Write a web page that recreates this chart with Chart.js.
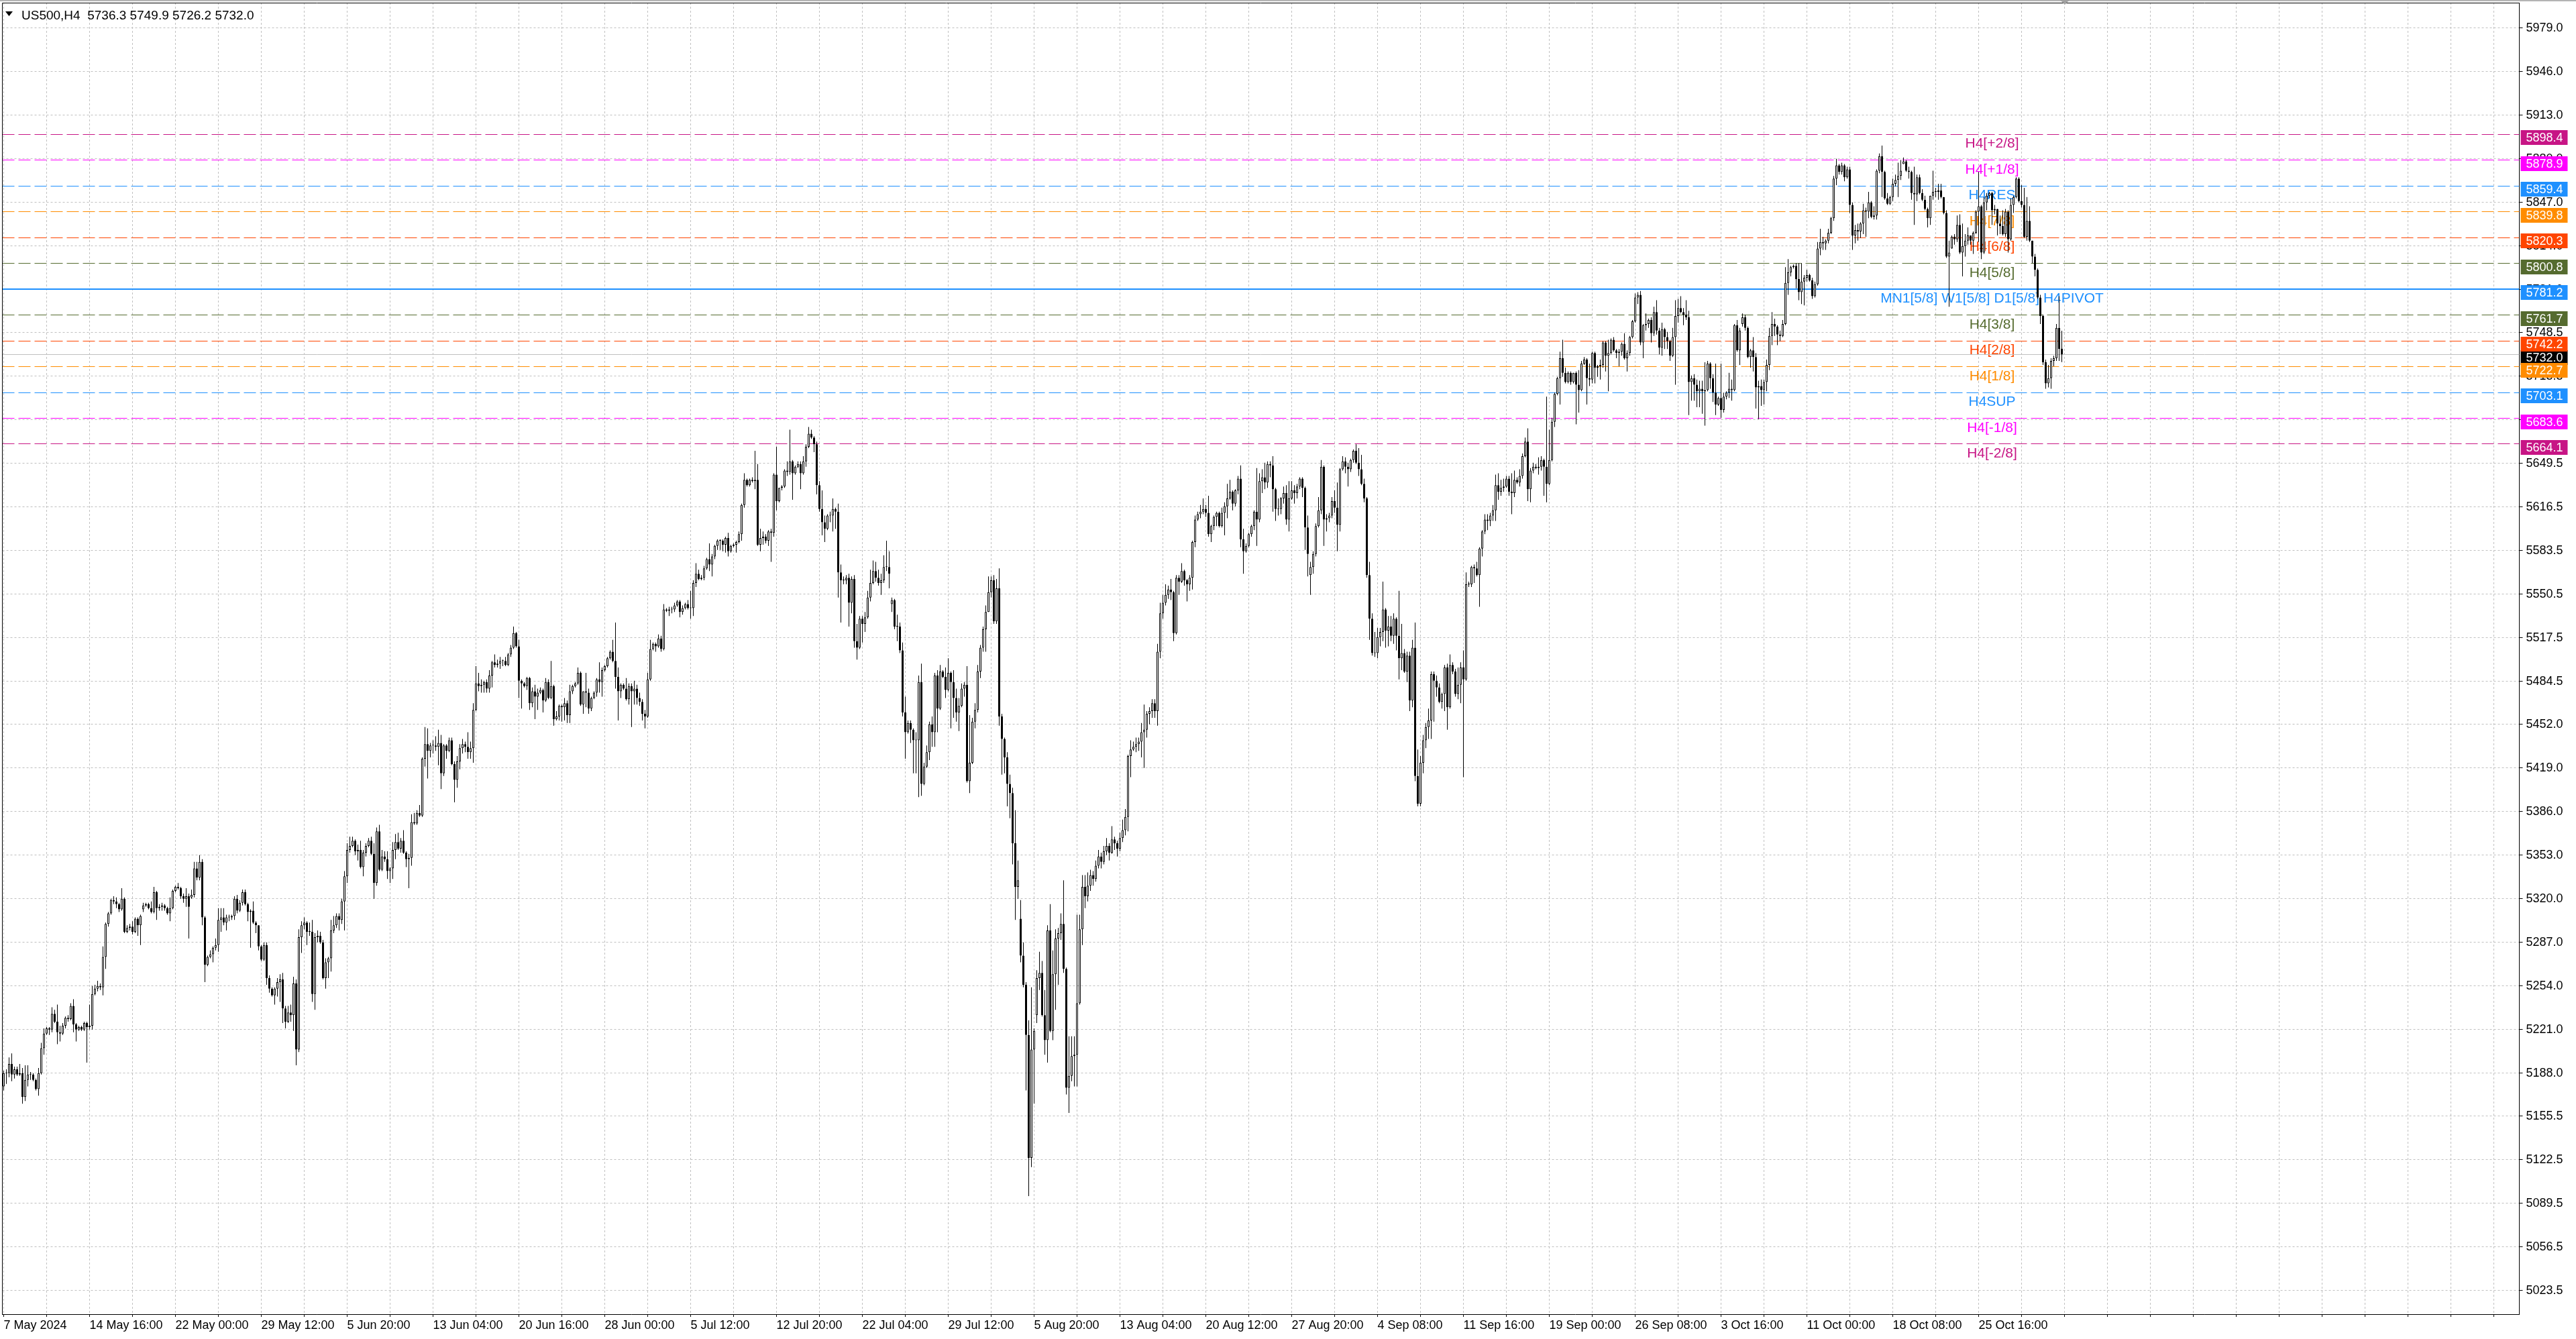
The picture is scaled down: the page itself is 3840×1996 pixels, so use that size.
<!DOCTYPE html>
<html>
<head>
<meta charset="utf-8">
<script src="https://cdn.jsdelivr.net/npm/chart.js@4.4.1/dist/chart.umd.min.js"></script>
<style>
html,body{margin:0;padding:0;background:#ffffff;overflow:hidden}
canvas{display:block}
</style>
</head>
<body>
<canvas id="c" width="3840" height="1996" style="width:3840px;height:1996px"></canvas>
<script>
// ---------- data ----------
const symbolTitle = 'US500,H4';
const xTickLabels = ['7 May 2024','14 May 16:00','22 May 00:00','29 May 12:00','5 Jun 20:00','13 Jun 04:00',
  '20 Jun 16:00','28 Jun 00:00','5 Jul 12:00','12 Jul 20:00','22 Jul 04:00','29 Jul 12:00','5 Aug 20:00',
  '13 Aug 04:00','20 Aug 12:00','27 Aug 20:00','4 Sep 08:00','11 Sep 16:00','19 Sep 00:00','26 Sep 08:00',
  '3 Oct 16:00','11 Oct 00:00','18 Oct 08:00','25 Oct 16:00'];
const yTickValues = [5979.0,5946.0,5913.0,5880.0,5847.0,5814.0,5781.0,5748.5,5715.5,5682.5,5649.5,5616.5,
  5583.5,5550.5,5517.5,5484.5,5452.0,5419.0,5386.0,5353.0,5320.0,5287.0,5254.0,5221.0,5188.0,5155.5,5122.5,
  5089.5,5056.5,5023.5];

const opens = [
5178,5188,5188,5195,5187,5191,5187,5188,5170,5183,
5187,5187,5183,5176,5188,5207,5218,5222,5221,5233,
5227,5219,5218,5224,5230,5229,5239,5225,5221,5223,
5221,5226,5223,5224,5248,5252,5254,5253,5276,5301,
5309,5319,5318,5316,5312,5320,5295,5298,5299,5295,
5305,5300,5312,5315,5316,5313,5310,5325,5313,5314,
5315,5313,5309,5313,5326,5329,5328,5322,5320,5322,
5321,5323,5343,5336,5348,5306,5270,5276,5278,5283,
5285,5304,5306,5302,5306,5306,5307,5320,5311,5317,
5325,5316,5310,5311,5302,5300,5284,5274,5285,5260,
5252,5247,5252,5257,5259,5237,5227,5234,5232,5256,
5206,5291,5300,5302,5295,5295,5248,5291,5292,5287,
5260,5272,5275,5296,5300,5307,5304,5318,5337,5357,
5360,5364,5356,5357,5344,5355,5360,5364,5354,5332,
5371,5342,5352,5350,5341,5343,5357,5363,5358,5364,
5355,5350,5351,5378,5377,5385,5383,5426,5437,5432,
5436,5436,5435,5438,5415,5436,5432,5440,5422,5410,
5424,5434,5437,5435,5431,5434,5463,5483,5481,5482,
5484,5479,5489,5499,5497,5498,5500,5500,5497,5505,
5510,5521,5511,5485,5483,5481,5487,5468,5477,5473,
5476,5478,5470,5484,5472,5481,5456,5458,5466,5465,
5468,5459,5477,5481,5483,5491,5467,5477,5476,5464,
5472,5476,5486,5484,5493,5496,5502,5507,5500,5488,
5477,5482,5479,5471,5481,5477,5479,5472,5469,5460,
5458,5486,5509,5513,5511,5517,5509,5539,5538,5539,
5539,5542,5545,5537,5540,5543,5540,5540,5559,5566,
5562,5563,5570,5577,5573,5579,5587,5591,5591,5588,
5593,5583,5587,5588,5590,5596,5618,5637,5633,5637,
5636,5637,5588,5593,5594,5591,5598,5597,5641,5621,
5631,5632,5644,5643,5651,5642,5647,5649,5642,5651,
5662,5672,5669,5664,5633,5615,5605,5600,5610,5610,
5615,5613,5567,5561,5561,5563,5544,5562,5515,5510,
5532,5528,5533,5548,5559,5568,5563,5559,5561,5571,
5571,5543,5546,5526,5526,5508,5461,5446,5453,5448,
5440,5440,5484,5407,5420,5431,5452,5446,5489,5464,
5492,5488,5478,5491,5484,5472,5461,5466,5479,5482,
5409,5423,5454,5463,5492,5510,5524,5537,5552,5561,
5530,5555,5458,5441,5427,5407,5400,5362,5329,5305,
5277,5255,5217,5124,5206,5232,5260,5264,5232,5213,
5296,5220,5263,5290,5294,5301,5267,5177,5186,5201,
5202,5241,5297,5329,5322,5330,5338,5335,5345,5352,
5348,5356,5360,5355,5365,5362,5358,5366,5372,5382,
5428,5433,5435,5437,5439,5446,5448,5460,5462,5468,
5462,5507,5536,5544,5550,5554,5552,5521,5563,5560,
5568,5561,5558,5563,5590,5607,5611,5613,5615,5612,
5596,5602,5609,5612,5602,5612,5617,5623,5628,5619,
5629,5638,5592,5583,5587,5596,5602,5613,5607,5636,
5639,5635,5649,5648,5630,5615,5615,5623,5627,5607,
5623,5629,5627,5632,5638,5631,5601,5565,5571,5581,
5602,5614,5647,5607,5608,5610,5621,5616,5603,5645,
5651,5647,5645,5652,5659,5650,5645,5634,5623,5565,
5532,5506,5506,5518,5522,5539,5523,5526,5519,5532,
5519,5502,5506,5492,5504,5470,5510,5413,5392,5423,
5440,5450,5455,5490,5485,5480,5469,5475,5495,5465,
5497,5492,5475,5482,5495,5486,5558,5558,5571,5570,
5565,5585,5598,5607,5606,5610,5614,5633,5628,5631,
5632,5638,5628,5627,5637,5635,5640,5655,5666,5630,
5644,5647,5646,5647,5652,5647,5634,5652,5681,5702,
5714,5729,5718,5711,5718,5711,5718,5709,5705,5725,
5728,5714,5713,5733,5722,5723,5724,5741,5731,5733,
5743,5735,5733,5734,5740,5729,5733,5745,5757,5775,
5777,5741,5754,5755,5758,5748,5764,5750,5737,5751,
5745,5742,5731,5745,5761,5767,5764,5762,5760,5711,
5714,5709,5704,5706,5704,5705,5725,5714,5703,5694,
5699,5690,5700,5703,5706,5705,5754,5735,5755,5760,
5752,5730,5735,5730,5707,5708,5705,5711,5724,5746,
5755,5753,5747,5746,5755,5786,5794,5798,5799,5789,
5779,5787,5790,5792,5788,5776,5785,5812,5817,5816,
5818,5824,5835,5865,5875,5870,5875,5866,5872,5845,
5822,5826,5825,5831,5841,5840,5847,5836,5837,5871,
5882,5870,5850,5846,5851,5861,5864,5867,5876,5878,
5871,5870,5854,5853,5866,5854,5849,5842,5835,5852,
5855,5855,5856,5851,5839,5806,5812,5821,5819,5830,
5809,5814,5818,5822,5818,5824,5840,5844,5809,5847,
5852,5854,5841,5842,5831,5829,5823,5840,5819,5845,
5851,5865,5848,5845,5821,5833,5818,5806,5796,5775,
5761,5726,5710,5714,5727,5729,5752,5736.3];

const highs = [
5190,5191,5200,5203,5193,5193,5195,5192,5194,5194,
5189,5188,5184,5192,5211,5222,5223,5223,5238,5236,
5240,5224,5226,5231,5232,5241,5244,5226,5224,5224,
5227,5227,5240,5254,5255,5258,5256,5284,5302,5310,
5320,5322,5321,5317,5328,5321,5300,5301,5303,5306,
5306,5308,5317,5317,5317,5318,5329,5326,5316,5317,
5316,5314,5321,5327,5330,5332,5329,5324,5328,5324,
5327,5348,5348,5353,5350,5307,5277,5281,5284,5290,
5313,5313,5313,5308,5308,5308,5322,5323,5319,5327,
5327,5317,5312,5318,5303,5300,5285,5287,5287,5262,
5253,5253,5260,5263,5264,5239,5239,5240,5261,5259,
5297,5303,5306,5303,5302,5304,5294,5296,5295,5289,
5275,5276,5304,5307,5309,5309,5320,5341,5362,5367,
5367,5365,5361,5364,5357,5362,5366,5367,5362,5374,
5376,5357,5356,5356,5344,5363,5369,5370,5366,5372,
5356,5354,5384,5385,5387,5391,5427,5450,5449,5438,
5440,5443,5448,5444,5437,5437,5442,5442,5424,5428,
5437,5441,5439,5446,5439,5468,5496,5491,5486,5485,
5486,5493,5500,5505,5501,5503,5501,5503,5506,5512,
5526,5522,5516,5486,5484,5488,5488,5480,5482,5479,
5480,5479,5487,5486,5500,5482,5462,5467,5467,5472,
5470,5482,5482,5484,5495,5492,5477,5491,5479,5473,
5477,5487,5499,5495,5497,5503,5508,5516,5529,5495,
5483,5483,5487,5483,5483,5485,5482,5476,5471,5463,
5491,5516,5514,5514,5520,5519,5543,5540,5541,5541,
5544,5546,5546,5542,5544,5546,5553,5561,5574,5569,
5565,5572,5578,5589,5581,5588,5592,5592,5592,5594,
5597,5588,5589,5591,5598,5619,5642,5638,5638,5639,
5659,5649,5600,5598,5596,5599,5600,5642,5662,5631,
5633,5645,5651,5675,5652,5648,5651,5651,5655,5664,
5677,5675,5670,5666,5636,5629,5610,5611,5613,5623,
5616,5619,5573,5564,5565,5566,5564,5565,5528,5534,
5534,5537,5553,5569,5576,5575,5569,5566,5580,5591,
5583,5548,5547,5535,5529,5514,5473,5455,5455,5449,
5446,5489,5498,5423,5436,5454,5458,5491,5493,5497,
5493,5495,5502,5492,5493,5479,5472,5483,5484,5496,
5459,5457,5468,5497,5512,5526,5542,5564,5564,5565,
5562,5570,5460,5442,5431,5414,5404,5387,5349,5319,
5287,5257,5228,5253,5222,5266,5280,5273,5251,5300,
5316,5281,5297,5298,5309,5334,5268,5216,5216,5216,
5308,5308,5338,5338,5340,5342,5341,5349,5357,5355,
5360,5366,5362,5375,5367,5364,5370,5380,5388,5429,
5440,5439,5442,5442,5453,5467,5462,5465,5471,5471,
5513,5544,5550,5558,5557,5562,5553,5565,5565,5574,
5569,5562,5565,5591,5610,5613,5618,5623,5618,5625,
5603,5610,5613,5613,5616,5620,5634,5637,5629,5630,
5640,5648,5600,5589,5597,5603,5614,5646,5642,5645,
5650,5651,5651,5655,5631,5623,5624,5632,5633,5636,
5636,5633,5634,5639,5639,5632,5610,5575,5583,5604,
5624,5652,5648,5611,5612,5624,5629,5635,5646,5655,
5654,5650,5653,5660,5664,5661,5656,5638,5624,5575,
5536,5522,5525,5525,5560,5540,5534,5534,5536,5533,
5553,5528,5509,5507,5507,5516,5529,5433,5428,5444,
5453,5464,5492,5492,5489,5483,5476,5497,5498,5505,
5499,5494,5495,5499,5508,5567,5560,5572,5573,5575,
5586,5599,5611,5611,5612,5618,5641,5642,5637,5638,
5640,5640,5642,5644,5639,5645,5657,5669,5676,5646,
5650,5649,5654,5655,5653,5700,5675,5684,5703,5715,
5734,5743,5722,5719,5719,5718,5719,5720,5727,5730,
5729,5725,5734,5734,5724,5728,5742,5742,5743,5744,
5745,5736,5736,5741,5748,5735,5746,5758,5778,5779,
5780,5755,5763,5759,5760,5768,5773,5752,5756,5752,
5749,5743,5752,5773,5774,5776,5767,5773,5765,5716,
5717,5713,5712,5712,5726,5727,5726,5717,5725,5700,
5725,5703,5704,5718,5713,5755,5758,5752,5763,5762,
5753,5736,5745,5733,5712,5713,5713,5728,5752,5764,
5759,5754,5750,5758,5798,5804,5799,5800,5801,5801,
5801,5792,5796,5793,5790,5787,5817,5827,5821,5819,
5827,5836,5867,5880,5876,5877,5876,5874,5874,5847,
5830,5831,5832,5846,5843,5855,5848,5844,5872,5884,
5890,5871,5854,5852,5865,5868,5877,5879,5881,5879,
5874,5871,5874,5868,5868,5857,5852,5843,5852,5871,
5858,5861,5861,5851,5841,5818,5822,5823,5837,5838,
5831,5823,5828,5822,5825,5841,5870,5845,5851,5854,
5855,5855,5845,5842,5837,5841,5842,5841,5850,5852,
5866,5866,5860,5858,5851,5844,5818,5808,5797,5777,
5762,5728,5724,5729,5731,5755,5776,5749.9];

const lows = [
5175,5180,5185,5182,5184,5186,5186,5165,5167,5178,
5183,5182,5175,5171,5187,5202,5217,5217,5219,5226,
5210,5212,5217,5222,5227,5228,5219,5212,5220,5220,
5220,5196,5221,5221,5247,5250,5251,5247,5267,5299,
5308,5316,5313,5310,5311,5294,5294,5296,5293,5294,
5292,5285,5310,5314,5312,5309,5309,5304,5311,5311,
5311,5308,5303,5312,5325,5327,5320,5317,5314,5290,
5320,5321,5334,5334,5300,5257,5269,5275,5272,5281,
5280,5295,5300,5296,5303,5304,5304,5309,5310,5315,
5315,5303,5283,5301,5294,5281,5273,5273,5255,5249,
5246,5240,5246,5242,5226,5222,5226,5227,5220,5194,
5204,5279,5297,5285,5292,5242,5236,5287,5286,5259,
5252,5260,5265,5294,5298,5296,5301,5296,5332,5355,
5359,5353,5349,5343,5337,5352,5359,5353,5320,5330,
5341,5341,5348,5335,5332,5335,5350,5357,5355,5354,
5344,5328,5345,5376,5376,5382,5382,5420,5411,5427,
5430,5432,5421,5403,5413,5426,5431,5421,5393,5404,
5418,5430,5431,5426,5426,5423,5462,5477,5476,5476,
5476,5476,5480,5495,5495,5494,5496,5496,5496,5503,
5509,5510,5472,5464,5480,5478,5463,5465,5456,5463,
5475,5461,5469,5471,5471,5451,5455,5455,5454,5455,
5453,5453,5475,5480,5482,5466,5460,5465,5460,5462,
5471,5473,5476,5473,5492,5495,5501,5499,5479,5455,
5472,5478,5470,5467,5450,5467,5467,5466,5455,5449,
5457,5485,5508,5507,5510,5507,5508,5537,5534,5536,
5537,5541,5533,5535,5539,5539,5532,5534,5556,5561,
5561,5561,5569,5568,5564,5577,5584,5584,5583,5582,
5579,5582,5586,5582,5589,5591,5616,5632,5632,5635,
5630,5587,5583,5588,5589,5587,5575,5594,5614,5620,
5629,5631,5640,5641,5622,5641,5646,5630,5641,5647,
5661,5668,5658,5626,5613,5595,5590,5599,5605,5598,
5600,5548,5529,5558,5558,5526,5536,5510,5501,5509,
5514,5522,5532,5545,5558,5560,5557,5550,5559,5568,
5555,5537,5524,5515,5506,5458,5426,5445,5438,5415,
5415,5397,5398,5406,5419,5425,5435,5435,5446,5463,
5487,5472,5477,5449,5457,5454,5447,5465,5473,5408,
5400,5422,5449,5461,5487,5507,5507,5537,5548,5528,
5528,5451,5414,5415,5390,5381,5346,5304,5320,5272,
5253,5175,5095,5117,5165,5226,5251,5231,5202,5196,
5219,5213,5236,5255,5289,5264,5172,5158,5182,5178,
5178,5240,5285,5313,5318,5326,5330,5333,5343,5343,
5346,5353,5349,5354,5357,5352,5356,5363,5368,5371,
5412,5432,5431,5432,5427,5419,5442,5452,5457,5457,
5451,5502,5532,5542,5547,5546,5515,5520,5550,5559,
5557,5545,5553,5554,5586,5606,5608,5611,5609,5594,
5590,5599,5602,5601,5601,5595,5608,5622,5614,5617,
5626,5586,5566,5582,5586,5594,5599,5587,5605,5627,
5630,5631,5639,5613,5606,5610,5611,5619,5603,5598,
5622,5619,5623,5630,5624,5584,5564,5550,5566,5579,
5601,5611,5587,5598,5605,5608,5612,5583,5598,5644,
5642,5632,5643,5650,5649,5640,5633,5620,5563,5516,
5504,5503,5502,5511,5515,5510,5511,5515,5513,5508,
5486,5493,5491,5484,5462,5465,5409,5390,5390,5415,
5434,5441,5441,5454,5473,5468,5464,5462,5448,5464,
5490,5473,5471,5468,5412,5485,5556,5556,5559,5564,
5541,5579,5596,5599,5602,5606,5606,5622,5625,5628,
5631,5625,5611,5624,5634,5632,5638,5654,5621,5620,
5642,5645,5641,5644,5625,5620,5633,5651,5677,5701,
5694,5715,5710,5710,5709,5710,5679,5688,5704,5724,
5694,5708,5710,5710,5715,5713,5722,5719,5704,5732,
5734,5729,5723,5731,5728,5719,5731,5744,5756,5770,
5739,5729,5750,5752,5741,5746,5747,5732,5731,5736,
5736,5727,5730,5709,5756,5763,5754,5758,5686,5697,
5697,5692,5692,5687,5678,5704,5706,5696,5686,5693,
5684,5688,5698,5699,5697,5704,5734,5724,5753,5750,
5729,5722,5719,5691,5683,5693,5694,5704,5720,5739,
5746,5739,5742,5745,5754,5777,5791,5797,5782,5773,
5770,5769,5787,5787,5774,5775,5784,5807,5811,5811,
5816,5823,5833,5860,5868,5868,5863,5865,5839,5811,
5816,5818,5820,5823,5821,5835,5835,5834,5834,5869,
5851,5849,5845,5845,5848,5859,5851,5864,5876,5870,
5865,5849,5830,5848,5853,5848,5841,5828,5830,5849,
5851,5849,5850,5838,5805,5768,5812,5815,5817,5808,
5791,5806,5815,5815,5808,5823,5817,5804,5808,5841,
5850,5830,5838,5822,5823,5822,5821,5809,5818,5839,
5850,5847,5843,5820,5818,5817,5801,5791,5774,5755,
5724,5706,5707,5706,5723,5727,5727,5726.2];

const closes = [
5188,5188,5195,5187,5191,5187,5188,5170,5183,5187,
5187,5183,5176,5188,5207,5218,5222,5221,5233,5227,
5219,5218,5224,5230,5229,5239,5225,5221,5223,5221,
5226,5223,5224,5248,5252,5254,5253,5276,5301,5309,
5319,5318,5316,5312,5320,5295,5298,5299,5295,5305,
5300,5307,5315,5316,5313,5310,5325,5313,5314,5315,
5313,5309,5313,5326,5329,5328,5322,5320,5322,5314,
5323,5343,5336,5348,5306,5270,5276,5278,5283,5285,
5304,5306,5302,5306,5306,5307,5320,5311,5317,5325,
5316,5310,5311,5302,5300,5284,5274,5285,5260,5252,
5247,5252,5257,5259,5237,5227,5234,5232,5256,5206,
5291,5300,5302,5295,5295,5248,5291,5292,5287,5260,
5272,5275,5296,5300,5307,5304,5318,5337,5357,5360,
5364,5356,5357,5344,5355,5360,5364,5354,5332,5371,
5342,5352,5350,5341,5343,5357,5363,5358,5364,5355,
5350,5351,5378,5377,5385,5383,5426,5437,5432,5436,
5436,5435,5438,5415,5436,5432,5440,5422,5410,5424,
5434,5437,5435,5431,5434,5463,5483,5481,5482,5484,
5479,5489,5499,5497,5498,5500,5500,5497,5505,5510,
5521,5511,5485,5483,5481,5487,5468,5477,5473,5476,
5478,5470,5484,5472,5481,5456,5458,5466,5465,5468,
5459,5477,5481,5483,5491,5467,5477,5476,5464,5472,
5476,5486,5484,5493,5496,5502,5507,5500,5488,5477,
5482,5479,5471,5481,5477,5479,5472,5469,5460,5458,
5486,5509,5513,5511,5517,5509,5539,5538,5539,5539,
5542,5545,5537,5540,5543,5540,5540,5559,5566,5562,
5563,5570,5577,5573,5579,5587,5591,5591,5588,5593,
5583,5587,5588,5590,5596,5618,5637,5633,5637,5636,
5637,5588,5593,5594,5591,5598,5597,5641,5621,5631,
5632,5644,5643,5651,5642,5647,5649,5642,5651,5662,
5672,5669,5664,5633,5615,5605,5600,5610,5610,5615,
5613,5567,5561,5561,5563,5544,5562,5515,5510,5532,
5528,5533,5548,5559,5568,5563,5559,5561,5571,5571,
5566,5546,5526,5526,5508,5461,5446,5453,5448,5440,
5440,5484,5407,5420,5431,5452,5446,5489,5464,5492,
5488,5478,5491,5484,5472,5461,5466,5479,5482,5409,
5423,5454,5463,5492,5510,5524,5537,5552,5561,5530,
5555,5458,5441,5427,5407,5400,5362,5329,5334,5277,
5255,5217,5124,5206,5220,5260,5264,5232,5213,5296,
5220,5263,5290,5294,5301,5267,5177,5186,5201,5202,
5241,5297,5329,5322,5330,5338,5335,5345,5352,5348,
5356,5360,5355,5365,5362,5358,5366,5372,5382,5428,
5433,5435,5437,5439,5446,5448,5460,5462,5468,5462,
5507,5536,5544,5550,5554,5552,5521,5563,5560,5568,
5561,5558,5563,5590,5607,5611,5613,5615,5612,5596,
5602,5609,5612,5602,5612,5617,5623,5628,5619,5629,
5638,5592,5583,5587,5596,5602,5613,5607,5636,5639,
5635,5649,5648,5630,5615,5615,5623,5627,5607,5623,
5629,5627,5632,5638,5631,5601,5581,5571,5581,5602,
5614,5647,5607,5608,5610,5621,5616,5603,5645,5651,
5647,5645,5652,5659,5650,5645,5634,5623,5565,5532,
5506,5506,5518,5522,5539,5523,5526,5519,5532,5519,
5502,5506,5492,5504,5470,5510,5413,5392,5423,5440,
5450,5455,5490,5485,5480,5469,5475,5495,5465,5497,
5492,5475,5482,5495,5486,5558,5558,5571,5570,5565,
5585,5598,5607,5606,5610,5614,5633,5628,5631,5632,
5638,5628,5627,5637,5635,5640,5655,5666,5630,5644,
5647,5646,5647,5652,5647,5634,5652,5681,5702,5714,
5729,5718,5711,5718,5711,5718,5709,5705,5725,5728,
5714,5713,5733,5722,5723,5724,5741,5731,5733,5743,
5735,5733,5734,5740,5729,5733,5745,5757,5775,5777,
5741,5754,5755,5758,5748,5764,5750,5737,5751,5745,
5742,5731,5745,5761,5767,5764,5762,5760,5711,5714,
5709,5704,5706,5704,5705,5725,5714,5703,5694,5699,
5690,5700,5703,5706,5705,5754,5735,5750,5760,5752,
5730,5735,5730,5707,5708,5705,5711,5724,5746,5755,
5753,5747,5746,5755,5786,5794,5798,5799,5789,5779,
5787,5790,5792,5788,5776,5785,5812,5817,5816,5818,
5824,5835,5865,5875,5870,5875,5866,5872,5845,5822,
5826,5825,5831,5841,5840,5847,5836,5837,5871,5882,
5870,5850,5846,5851,5861,5864,5867,5871,5878,5871,
5870,5854,5853,5866,5854,5849,5842,5835,5852,5855,
5855,5856,5851,5839,5806,5809,5821,5819,5830,5809,
5814,5818,5822,5818,5824,5840,5844,5809,5847,5852,
5854,5841,5842,5831,5829,5823,5840,5819,5845,5851,
5865,5848,5845,5821,5833,5818,5806,5796,5775,5761,
5726,5710,5714,5727,5729,5752,5736,5732.0];

const levelValues = [5898.4,5878.9,5859.4,5839.8,5820.3,5800.8,5781.2,5761.7,5742.2,5722.7,5703.1,5683.6,5664.1];
const levelNames = ['H4[+2/8]','H4[+1/8]','H4RES','H4[7/8]','H4[6/8]','H4[5/8]',
  'MN1[5/8] W1[5/8] D1[5/8] H4PIVOT','H4[3/8]','H4[2/8]','H4[1/8]','H4SUP','H4[-1/8]','H4[-2/8]'];
const levelColors = ['#C71585','#FF00FF','#1E90FF','#FF8C00','#FF4500','#556B2F','#1E90FF',
  '#556B2F','#FF4500','#FF8C00','#1E90FF','#FF00FF','#C71585'];
const currentPrice = 5732.0;

// ---------- chart construction ----------
const FONT = '"Liberation Sans", Arial, sans-serif';
const totalSlots = 938;          // bar slots incl. the empty right-hand shift area
const labelSlot = 741;           // slot where the level names are centred
const nBars = closes.length;
if (opens.length !== nBars || highs.length !== nBars || lows.length !== nBars) {
  console.error('length mismatch', opens.length, highs.length, lows.length, closes.length);
}

Chart.defaults.font.family = FONT;

const slotLabels = Array.from({length: totalSlots}, (_, i) =>
  (i % 32 === 0 && xTickLabels[i / 32]) ? xTickLabels[i / 32] : '');

const wickData = highs.map((h, i) => [lows[i], h]);
const bodyData = opens.map((o, i) => [o, closes[i]]);
const bodyFill = opens.map((o, i) => closes[i] >= o ? '#FFFFFF' : '#000000');

const levelDatasets = levelValues.map((v, k) => ({
  type: 'line', xAxisID: 'xl', yAxisID: 'y', levelValue: v,
  data: [{x: -0.5, y: v}, {x: totalSlots - 0.5, y: v}],
  borderColor: levelColors[k], borderWidth: k === 6 ? 2 : 1,
  borderDash: k === 6 ? [] : [18, 6],
  pointRadius: 0, fill: false, tension: 0, order: 3
}));
const bidLine = {
  type: 'line', xAxisID: 'xl', yAxisID: 'y', levelValue: currentPrice,
  data: [{x: -0.5, y: currentPrice}, {x: totalSlots - 0.5, y: currentPrice}],
  borderColor: '#C0C0C0', borderWidth: 1, pointRadius: 0, fill: false, order: 4
};

const fmt = v => Number(v).toFixed(1);

const decor = {
  id: 'decor',
  beforeDraw(chart) {
    const ctx = chart.ctx;
    ctx.save();
    ctx.fillStyle = '#FFFFFF';
    ctx.fillRect(0, 0, chart.width, chart.height);
    ctx.restore();
  },
  // snap the horizontal level lines onto whole pixels so they stay crisp
  beforeDatasetDraw(chart, args) {
    const ds = chart.data.datasets[args.index];
    if (ds.levelValue === undefined) return;
    const ctx = chart.ctx;
    const y = chart.scales.y.getPixelForValue(ds.levelValue);
    const w = ds.borderWidth || 1;
    const target = (w % 2 === 1) ? Math.round(y - 0.5) + 0.5 : Math.round(y);
    ctx.save();
    ctx.translate(0, target - y);
    ds._snapped = true;
  },
  afterDatasetDraw(chart, args) {
    const ds = chart.data.datasets[args.index];
    if (ds._snapped) { chart.ctx.restore(); ds._snapped = false; }
  },
  beforeDatasetsDraw(chart) {
    const ctx = chart.ctx, ys = chart.scales.y, xs = chart.scales.xl;
    const cx = xs.getPixelForValue(labelSlot);
    ctx.save();
    ctx.font = '21px ' + FONT;
    ctx.textAlign = 'center';
    ctx.textBaseline = 'alphabetic';
    levelValues.forEach((v, k) => {
      ctx.fillStyle = levelColors[k];
      ctx.fillText(levelNames[k], cx, ys.getPixelForValue(v) + 20);
    });
    ctx.restore();
  },
  afterDraw(chart) {
    const ctx = chart.ctx, ys = chart.scales.y, a = chart.chartArea;
    ctx.save();
    // frame
    ctx.fillStyle = '#B4B4B4';
    ctx.fillRect(0, 0, chart.width, 2);
    ctx.strokeStyle = '#000000';
    ctx.lineWidth = 1;
    ctx.beginPath();
    ctx.moveTo(a.left, a.bottom); ctx.lineTo(a.left, a.top + 0.5); ctx.lineTo(a.right, a.top + 0.5);
    ctx.stroke();
    // chart shift marker
    ctx.fillStyle = '#A0A0A0';
    ctx.beginPath();
    ctx.moveTo(3071, 0); ctx.lineTo(3085, 0); ctx.lineTo(3078, 7); ctx.closePath(); ctx.fill();
    // header
    ctx.fillStyle = '#000000';
    ctx.beginPath();
    ctx.moveTo(8, 17); ctx.lineTo(19, 17); ctx.lineTo(13.5, 24); ctx.closePath(); ctx.fill();
    ctx.font = '19px ' + FONT;
    ctx.textAlign = 'left';
    ctx.textBaseline = 'alphabetic';
    const n = closes.length - 1;
    ctx.fillText(symbolTitle + '  ' + fmt(opens[n]) + ' ' + fmt(highs[n]) + ' ' + fmt(lows[n]) + ' ' + fmt(closes[n]), 32, 29);
    // price boxes on the right axis
    ctx.font = '18px ' + FONT;
    ctx.textBaseline = 'middle';
    const box = (v, bg) => {
      const y = Math.round(ys.getPixelForValue(v));
      ctx.fillStyle = bg;
      ctx.fillRect(a.right + 2, y - 6, 70, 22);
      ctx.fillStyle = '#FFFFFF';
      ctx.fillText(fmt(v), a.right + 10, y + 6);
    };
    box(currentPrice, '#000000');
    levelValues.forEach((v, k) => box(v, levelColors[k]));
    ctx.restore();
  }
};

new Chart(document.getElementById('c'), {
  type: 'bar',
  data: {
    labels: slotLabels,
    datasets: [
      {
        label: 'body', data: bodyData, xAxisID: 'x', yAxisID: 'y',
        backgroundColor: bodyFill, borderColor: '#000000', borderWidth: 1,
        borderSkipped: false, barThickness: 3, minBarLength: 1, grouped: false,
        inflateAmount: 0, order: 0
      },
      {
        label: 'wick', data: wickData, xAxisID: 'x', yAxisID: 'y',
        backgroundColor: '#000000', borderWidth: 0, barThickness: 1, grouped: false,
        inflateAmount: 0, order: 1
      },
      ...levelDatasets,
      bidLine
    ]
  },
  options: {
    responsive: false,
    animation: false,
    devicePixelRatio: 1,
    events: [],
    layout: {padding: {left: 3.5, top: 4, right: 0, bottom: 0}},
    plugins: {legend: {display: false}, tooltip: {enabled: false}, title: {display: false}},
    scales: {
      x: {
        type: 'category', position: 'bottom', offset: true,
        grid: {offset: false, color: '#C0C0C0', lineWidth: 1, drawTicks: true, tickLength: 4, tickColor: '#000000'},
        border: {display: true, color: '#000000', width: 1, dash: [3, 3]},
        ticks: {
          autoSkip: false, maxRotation: 0, minRotation: 0, align: 'start', padding: 2,
          color: '#000000', font: {size: 18},
          callback(value) { return this.getLabelForValue(value); }
        },
        afterBuildTicks(s) { s.ticks = s.ticks.filter(t => t.value % 16 === 0); },
        afterFit(s) { s.height = 37; s.paddingLeft = 0; s.paddingRight = 0; s.paddingTop = 0; s.paddingBottom = 0; }
      },
      xl: {type: 'linear', display: false, min: -0.5, max: totalSlots - 0.5, offset: false},
      y: {
        type: 'linear', position: 'right', min: 5005.7, max: 5998.1,
        grid: {color: '#C0C0C0', lineWidth: 1, drawTicks: true, tickLength: 5, tickColor: '#000000'},
        border: {display: true, color: '#000000', width: 1, dash: [3, 3]},
        ticks: {color: '#000000', padding: 5, font: {size: 18}, callback: v => Number(v).toFixed(1)},
        afterBuildTicks(s) { s.ticks = yTickValues.map(v => ({value: v})); },
        afterFit(s) { s.width = 84.5; s.paddingTop = 0; s.paddingBottom = 0; s.paddingLeft = 0; s.paddingRight = 0; }
      }
    }
  },
  plugins: [decor]
});
</script>
</body>
</html>
